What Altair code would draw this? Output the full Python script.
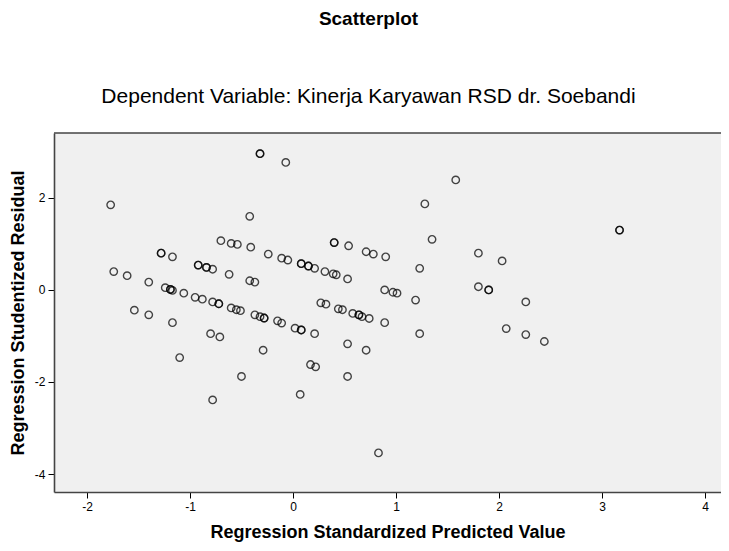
import altair as alt
import pandas as pd

# Regression standardized predicted value (x) and studentized residual (y)
pred = [-0.32, -0.32, -0.07, -1.77, -0.42, 1.58, 1.28, 1.35, 3.17, 3.17,
        -0.70, -0.60, -0.54, -0.41, -0.24, -0.11, -0.05, -1.28, -1.28, -1.17,
        -1.74, -1.61, -1.40, -0.92, -0.92, -0.84, -0.84, -0.78, -0.62, -0.42,
        -0.37, -1.24, -1.19, -1.19, -1.17, -1.06, -0.95, -0.88, -0.78, -0.72,
        -0.72, -0.60, -0.55, -0.51, -0.37, -0.32, -0.28, -0.28, -0.15, -0.11,
        -1.54, -1.40, -1.17, -0.80, -0.71, -0.29, -1.10, -0.50, -0.78, 0.40,
        0.40, 0.54, 0.71, 0.78, 0.90, 1.80, 2.03, 1.23, 0.08, 0.08,
        0.15, 0.15, 0.21, 0.31, 0.39, 0.42, 0.53, 0.89, 0.97, 1.01,
        1.19, 1.80, 1.90, 1.90, 2.26, 0.27, 0.32, 0.44, 0.48, 0.58,
        0.64, 0.64, 0.67, 0.74, 0.89, 1.23, 0.02, 0.08, 0.08, 0.21,
        0.53, 0.71, 0.17, 0.22, 0.53, 0.07, 0.83, 2.07, 2.26, 2.44]
resid = [2.96, 2.96, 2.77, 1.85, 1.60, 2.39, 1.87, 1.10, 1.30, 1.30,
         1.07, 1.01, 0.99, 0.93, 0.78, 0.69, 0.65, 0.80, 0.80, 0.72,
         0.40, 0.31, 0.17, 0.54, 0.54, 0.49, 0.49, 0.45, 0.34, 0.20,
         0.17, 0.05, 0.01, 0.01, -0.01, -0.07, -0.16, -0.20, -0.26, -0.30,
         -0.30, -0.39, -0.43, -0.45, -0.54, -0.58, -0.61, -0.61, -0.67, -0.72,
         -0.44, -0.54, -0.71, -0.95, -1.02, -1.31, -1.47, -1.88, -2.39, 1.03,
         1.03, 0.96, 0.83, 0.78, 0.72, 0.80, 0.63, 0.47, 0.57, 0.57,
         0.52, 0.52, 0.47, 0.40, 0.35, 0.33, 0.24, 0.00, -0.05, -0.07,
         -0.22, 0.07, 0.00, 0.00, -0.26, -0.28, -0.31, -0.41, -0.43, -0.51,
         -0.54, -0.54, -0.58, -0.62, -0.71, -0.95, -0.83, -0.87, -0.87, -0.95,
         -1.17, -1.31, -1.62, -1.67, -1.88, -2.27, -3.54, -0.84, -0.97, -1.12]

x_ticks = [-2, -1, 0, 1, 2, 3, 4]
y_ticks = [-4, -2, 0, 2]

df = pd.DataFrame({"pred": pred, "resid": resid})

W, H = 667, 359
FONT = "Liberation Sans"

points = alt.Chart(df).mark_point(
    shape="circle", filled=False, size=55, color="#000000",
    strokeWidth=1.4, opacity=0.72
).encode(
    x=alt.X("pred:Q",
            scale=alt.Scale(domain=[-2.32, 4.155], nice=False, zero=False),
            axis=alt.Axis(values=x_ticks, title="Regression Standardized Predicted Value",
                          labelExpr="toString(datum.value)", titlePadding=11)),
    y=alt.Y("resid:Q",
            scale=alt.Scale(domain=[-4.39, 3.41], nice=False, zero=False),
            axis=alt.Axis(values=y_ticks, title="Regression Studentized Residual",
                          labelExpr="toString(datum.value)", titlePadding=7)),
)

frame_top = alt.Chart(pd.DataFrame({"k": [0]})).mark_rule(
    color="#444444", strokeWidth=1.6
).encode(x=alt.value(0), x2=alt.value(W), y=alt.value(0))

chart = alt.layer(points, frame_top).properties(
    width=W, height=H,
    autosize=alt.AutoSizeParams(type="none"),
    padding={"left": 46, "top": 125, "right": 0, "bottom": 51},
    title=alt.TitleParams(
        text="Scatterplot",
        subtitle="Dependent Variable: Kinerja Karyawan RSD dr. Soebandi",
        font=FONT, fontSize=19, fontWeight="bold", color="#000000",
        subtitleFont=FONT, subtitleFontSize=21, subtitleColor="#000000",
        anchor="middle", dx=-19, offset=25, subtitlePadding=57,
    ),
).configure_view(
    fill="#F0F0F0", stroke="transparent", strokeWidth=0, strokeOpacity=0
).configure_axis(
    grid=False, domainColor="#444444", domainWidth=1.6,
    tickColor="#000000", tickSize=6, tickWidth=1,
    labelFont=FONT, labelFontSize=12, labelColor="#000000", labelPadding=3,
    titleFont=FONT, titleFontSize=18, titleFontWeight="bold", titleColor="#000000",
)

chart.save("out.html", embed_options={"renderer": "svg", "actions": False})
